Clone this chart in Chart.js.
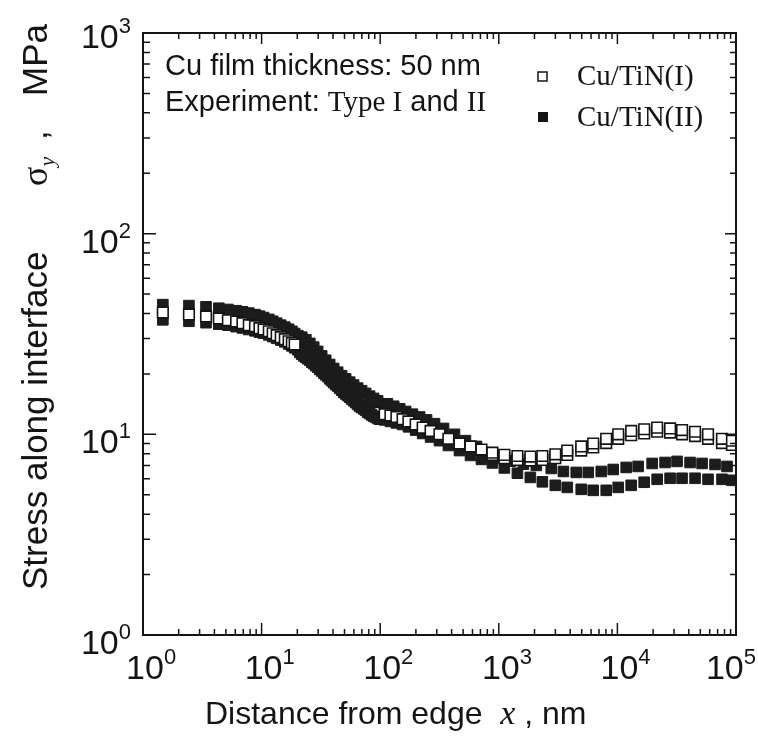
<!DOCTYPE html>
<html>
<head>
<meta charset="utf-8">
<script src="https://cdn.jsdelivr.net/npm/chart.js@4.4.0/dist/chart.umd.min.js"></script>
<style>
  html, body { margin: 0; padding: 0; background: #fff; }
</style>
</head>
<body>
<canvas id="stress-chart" width="758" height="737"></canvas>
<script>
// distance from edge x (nm) - mesh shared by Cu/TiN(I) and the lower Cu/TiN(II) trace
const xMain = [
  1.47, 2.44, 3.4, 4.36, 5.2, 6.1, 6.9, 7.8, 8.8, 9.6, 10.4, 11.5, 12.4, 13.4, 14.5, 15.7, 16.9, 18.0, 19.0, 20.2,
  21.0, 21.8, 22.7, 23.6, 24.5, 25.5, 26.5, 27.5, 28.6, 29.7, 30.9, 32.1, 33.4, 34.7, 36.1, 37.5, 39.0, 40.5, 42.1, 43.8,
  45.5, 47.3, 49.2, 51.1, 53.2, 55.3, 57.4, 59.7, 62.1, 64.5, 67.1, 69.7, 72.5, 75.3, 78.3, 81.4, 84.6, 88.0, 91.4, 95.1, 98.8,
  109, 122, 137, 154.5, 173, 199, 228, 266, 316, 376, 466, 577, 714, 883, 1114, 1435, 1845, 2330, 2995, 3778,
  4955, 6253, 8050, 10160, 13070, 16820, 21640, 27820, 35090, 45160, 58090, 76210, 92500
];
// stress sigma_y (MPa), Cu/TiN(I)
const sigmaI = [
  40.5, 39.6, 38.7, 37.8, 37.0, 36.5, 35.8, 35.0, 34.6, 33.8, 33.3, 32.6, 31.9, 31.2, 30.5, 29.8, 29.1, 28.5, 28.0, 27.4,
  27.0, 26.6, 26.1, 25.7, 25.3, 24.9, 24.4, 24.0, 23.5, 23.1, 22.6, 22.2, 21.7, 21.3, 20.8, 20.3, 19.9, 19.5, 19.1, 18.7,
  18.3, 17.9, 17.5, 17.1, 16.8, 16.4, 16.1, 15.8, 15.5, 15.2, 14.9, 14.7, 14.4, 14.2, 13.9, 13.7, 13.5, 13.3, 13.1, 12.9, 12.8,
  12.6, 12.4, 12.2, 11.9, 11.6, 11.2, 10.8, 10.4, 10.0, 9.5, 9.0, 8.7, 8.4, 8.1, 7.9, 7.8, 7.75, 7.8, 7.95, 8.3,
  8.7, 9.0, 9.5, 10.0, 10.4, 10.6, 10.8, 10.7, 10.5, 10.3, 10.0, 9.5, 9.3
];
// stress sigma_y (MPa), Cu/TiN(II), lower trace
const sigmaIIlow = [
  37.2, 36.6, 36.0, 35.4, 35.0, 34.4, 33.9, 33.3, 32.8, 32.3, 31.9, 31.3, 30.7, 30.1, 29.5, 28.9, 28.2, 27.6, 27.0, 26.4,
  25.6, 25.1, 24.6, 24.2, 23.8, 23.4, 22.9, 22.5, 22.0, 21.6, 21.1, 20.7, 20.2, 19.8, 19.4, 18.9, 18.5, 18.1, 17.7, 17.4,
  17.0, 16.6, 16.2, 15.9, 15.6, 15.3, 15.0, 14.7, 14.4, 14.1, 13.8, 13.6, 13.4, 13.2, 12.9, 12.7, 12.5, 12.3, 12.2, 12.0, 11.9,
  11.8, 11.6, 11.4, 11.2, 10.9, 10.5, 10.1, 9.7, 9.3, 8.8, 8.3, 7.85, 7.5, 7.2, 6.8, 6.4, 6.1, 5.8, 5.57, 5.44,
  5.32, 5.26, 5.26, 5.44, 5.57, 5.77, 5.97, 6.04, 6.04, 6.04, 5.97, 5.97, 5.9
];
// upper Cu/TiN(II) trace sits on its own (shifted) mesh
const xUpper = [
  1.47, 2.44, 3.4, 4.36, 5.2, 6.1, 6.9, 7.8, 8.8, 9.6, 10.4, 11.5, 12.4, 13.4, 14.5, 15.7, 16.9, 18.0, 19.0, 20.2,
  21.8, 23.6, 25.5, 27.5, 29.7, 32.1, 34.7, 37.5, 40.5, 43.8, 47.3, 51.1, 55.3, 59.7, 64.5, 69.7, 75.3, 81.4, 88.0, 95.1,
  115, 130, 146, 164, 187, 215, 246, 287, 342, 423, 523, 648, 802, 993, 1253, 1612, 2072, 2770, 3505, 4500,
  5680, 7310, 9220, 11860, 14960, 19640, 25240, 31840, 41000, 51780, 66550, 83970
];
const sigmaIIhigh = [
  44.3, 43.8, 43.2, 42.5, 41.9, 41.3, 40.8, 40.2, 39.5, 38.8, 38.2, 37.4, 36.6, 35.8, 35.0, 34.2, 33.4, 32.6, 31.8, 31.0,
  30.5, 29.6, 28.4, 27.2, 25.9, 24.6, 23.4, 22.3, 21.3, 20.4, 19.6, 18.9, 18.2, 17.6, 17.0, 16.5, 16.0, 15.5, 15.1, 14.7,
  14.2, 13.8, 13.4, 13.0, 12.6, 12.2, 11.8, 11.3, 10.7, 10.0, 9.3, 8.7, 8.1, 7.7, 7.35, 7.1, 7.0, 6.76, 6.53, 6.46,
  6.46, 6.53, 6.68, 6.84, 6.92, 7.16, 7.24, 7.33, 7.24, 7.16, 7.08, 6.92
];
// second Cu/TiN(I) trace, only separates from the first past ~1 um
const xShadow = [883, 1114, 1435, 1845, 2330, 2995, 3778, 4955, 6253, 8050, 10160, 13070, 16820, 21640, 27820, 35090, 45160, 58090, 76210, 92500];
const sigmaIshadow = [7.9, 7.6, 7.45, 7.4, 7.45, 7.6, 7.9, 8.3, 8.6, 9.05, 9.5, 9.9, 10.1, 10.3, 10.2, 10.0, 9.8, 9.5, 9.05, 8.85];

// decade exponents for the tick labels
const xTickExp = [0, 1, 2, 3, 4, 5];
const yTickExp = [0, 1, 2, 3];

const SANS = '"Liberation Sans", Arial, sans-serif';
const SERIF = '"Liberation Serif", "Times New Roman", serif';
const INK = '#141414';

const toPoints = (xs, ys) => xs.map((x, i) => ({ x: x, y: ys[i] }));
// Cu/TiN(I) points inside the dense band (x ~ 20-100 nm) vanish under the solid markers
const bandFrom = 19, bandTo = 61;
const pointsI = toPoints(xMain, sigmaI);
const pointsIout = pointsI.slice(0, bandFrom).concat(pointsI.slice(bandTo));
const pointsIband = pointsI.slice(bandFrom, bandTo);

// draw a row of text pieces with different fonts, left to right
function drawRuns(ctx, runs, x, y) {
  let cx = x;
  runs.forEach(([text, font, dy]) => {
    ctx.font = font;
    ctx.fillText(text, cx, y + (dy || 0));
    cx += ctx.measureText(text).width;
  });
  return cx;
}
function runsWidth(ctx, runs) {
  let w = 0;
  runs.forEach(([text, font]) => { ctx.font = font; w += ctx.measureText(text).width; });
  return w;
}

const decor = {
  id: 'decor',
  afterDraw(chart) {
    const { ctx, chartArea: a, scales } = chart;
    const xs = scales.x, ys = scales.y;
    ctx.save();
    ctx.fillStyle = INK;
    ctx.strokeStyle = INK;

    // frame
    ctx.lineWidth = 2;
    ctx.strokeRect(a.left, a.top, a.right - a.left, a.bottom - a.top);

    // inward ticks on all four sides
    ctx.lineWidth = 1.5;
    ctx.beginPath();
    for (let e = 0; e < 5; e++) {
      for (let m = 1; m < 10; m++) {
        const px = xs.getPixelForValue(m * Math.pow(10, e));
        const big = m === 1;
        ctx.moveTo(px, a.bottom); ctx.lineTo(px, a.bottom - (big ? 12 : 6));
        ctx.moveTo(px, a.top); ctx.lineTo(px, a.top + (big ? 11 : 6));
      }
    }
    for (let e = 0; e < 3; e++) {
      for (let m = 1; m < 10; m++) {
        const py = ys.getPixelForValue(m * Math.pow(10, e));
        const big = m === 1;
        ctx.moveTo(a.left, py); ctx.lineTo(a.left + (big ? 13 : 7), py);
        ctx.moveTo(a.right, py); ctx.lineTo(a.right - (big ? 11 : 6), py);
      }
    }
    ctx.stroke();

    // tick labels 10^n
    const base = '34px ' + SANS, sup = '22px ' + SANS;
    ctx.textBaseline = 'alphabetic';
    xTickExp.forEach(e => {
      const px = xs.getPixelForValue(Math.pow(10, e));
      const runs = [['10', base, 0], [String(e), sup, -15]];
      ctx.font = base;
      let left = px - ctx.measureText('10').width / 2 + 2;
      left = Math.min(left, chart.width - 2 - runsWidth(ctx, runs));
      drawRuns(ctx, runs, left, a.bottom + 44);
    });
    yTickExp.forEach(e => {
      const py = ys.getPixelForValue(Math.pow(10, e));
      const runs = [['10', base, 0], [String(e), sup, -15]];
      const dy = e === 3 ? 15 : 19;
      drawRuns(ctx, runs, a.left - 12 - runsWidth(ctx, runs), py + dy);
    });

    // axis titles
    drawRuns(ctx, [
      ['Distance from edge  ', '32px ' + SANS],
      ['x', 'italic 34px ' + SERIF],
      [' , nm', '32px ' + SANS]
    ], 205, 724);

    ctx.save();
    ctx.translate(47, 590);
    ctx.rotate(-Math.PI / 2);
    ctx.font = '35px ' + SANS;
    ctx.fillText('Stress along interface', 0, 0);
    drawRuns(ctx, [
      ['\u03c3', '36px ' + SERIF],
      ['y', 'italic 22px ' + SERIF, 7]
    ], 404, 0);
    ctx.font = '35px ' + SANS;
    ctx.fillText(',', 450, 0);
    ctx.fillText('MPa', 494, 0);
    ctx.restore();

    // annotation
    drawRuns(ctx, [['Cu film thickness: 50 nm', '29px ' + SANS]], 165, 75);
    drawRuns(ctx, [
      ['Experiment: ', '29px ' + SANS],
      ['Type I', '29px ' + SERIF],
      [' and ', '29px ' + SANS],
      ['II', '29px ' + SERIF]
    ], 165, 111);

    // legend
    ctx.lineWidth = 1.5;
    ctx.strokeRect(538, 72, 9, 9);
    ctx.fillRect(538, 112, 10, 10);
    drawRuns(ctx, [['Cu/TiN(I)', '29px ' + SERIF]], 577, 85);
    drawRuns(ctx, [['Cu/TiN(II)', '29px ' + SERIF]], 577, 126);
    ctx.restore();
  }
};

const openStyle = {
  pointStyle: 'rect', pointRadius: 7.5, pointHoverRadius: 7.5,
  borderWidth: 1.6, borderColor: INK, backgroundColor: '#ffffff'
};
const solidStyle = {
  pointStyle: 'rect', pointRadius: 7.5, pointHoverRadius: 7.5,
  borderWidth: 1, borderColor: '#1c1c1c', backgroundColor: '#1c1c1c'
};

const ctx = document.getElementById('stress-chart').getContext('2d');
const stressChart = new Chart(ctx, {
  type: 'scatter',
  data: {
    // first dataset is painted last (on top)
    datasets: [
      Object.assign({ label: 'Cu/TiN(I)', data: pointsIout }, openStyle),
      Object.assign({ label: 'Cu/TiN(I) b', data: toPoints(xShadow, sigmaIshadow) }, openStyle),
      Object.assign({ label: 'Cu/TiN(II)', data: toPoints(xMain, sigmaIIlow) }, solidStyle),
      Object.assign({ label: 'Cu/TiN(II) b', data: toPoints(xUpper, sigmaIIhigh) }, solidStyle),
      Object.assign({ label: 'Cu/TiN(I) band', data: pointsIband }, openStyle)
    ]
  },
  options: {
    responsive: false,
    animation: false,
    devicePixelRatio: 1,
    layout: { padding: { top: 33, right: 22, left: 0, bottom: 0 } },
    plugins: { legend: { display: false }, tooltip: { enabled: false } },
    scales: {
      x: {
        type: 'logarithmic', min: 1, max: 100000,
        ticks: { display: false }, grid: { display: false }, border: { display: false },
        afterFit: s => { s.height = 102; }
      },
      y: {
        type: 'logarithmic', min: 1, max: 1000,
        ticks: { display: false }, grid: { display: false }, border: { display: false },
        afterFit: s => { s.width = 143; }
      }
    }
  },
  plugins: [decor]
});
</script>
</body>
</html>
